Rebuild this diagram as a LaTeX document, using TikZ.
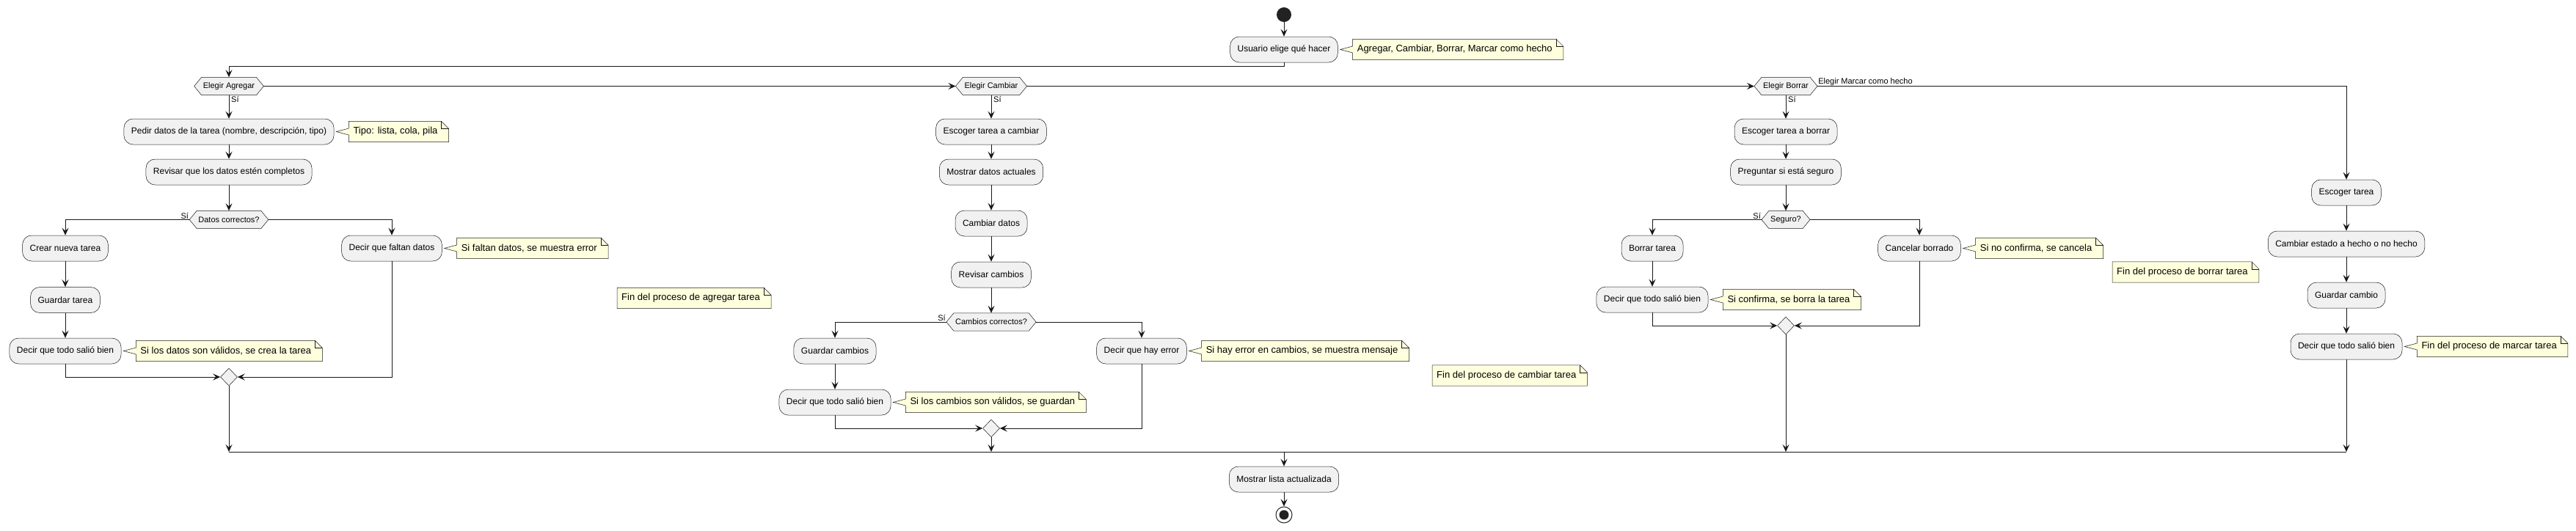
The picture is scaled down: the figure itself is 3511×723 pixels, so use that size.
\documentclass[tikz,border=0pt]{standalone}
\usepackage{fontspec}
\setmainfont{Liberation Sans}
\usetikzlibrary{arrows.meta,shapes.geometric,backgrounds}
\definecolor{lc}{HTML}{181818}
\definecolor{af}{HTML}{F1F1F1}
\definecolor{nf}{HTML}{FEFFDD}
\definecolor{dk}{HTML}{222222}
\newcommand{\hexdraw}[1]{\filldraw[hexs] (#1.west) -- ([xshift=10pt]#1.north west) -- ([xshift=-10pt]#1.north east) -- (#1.east) -- ([xshift=-10pt]#1.south east) -- ([xshift=10pt]#1.south west) -- cycle;}
\newcommand{\notew}[2]{\filldraw[nots] (#1.north west) -- ([xshift=-10pt]#1.north east) -- ([yshift=-10pt]#1.north east) -- (#1.south east) -- (#1.south west) -- ([yshift=-4.5pt]#1.west) -- ([xshift=3pt]#2.east) -- ([yshift=4.5pt]#1.west) -- cycle;
\draw[nots,fill=none] ([xshift=-10pt]#1.north east) |- ([yshift=-10pt]#1.north east);}
\newcommand{\notef}[1]{\filldraw[nots] (#1.north west) -- ([xshift=-10pt]#1.north east) -- ([yshift=-10pt]#1.north east) -- (#1.south east) -- (#1.south west) -- cycle;
\draw[nots,fill=none] ([xshift=-10pt]#1.north east) |- ([yshift=-10pt]#1.north east);}
\begin{document}
\begin{tikzpicture}[x=1pt,y=-1pt,
  act/.style={draw=lc, fill=af, line width=0.5pt, rounded corners=12.5pt, minimum height=35pt, inner xsep=10pt, inner ysep=0pt, font=\fontsize{12}{14}\selectfont},
  hexn/.style={minimum height=24pt, inner xsep=12pt, inner ysep=0pt, font=\fontsize{11}{13}\selectfont},
  hexs/.style={draw=lc, fill=af, line width=0.5pt},
  notn/.style={minimum height=28pt, inner xsep=0pt, inner ysep=0pt, anchor=west, font=\fontsize{13}{15}\selectfont, execute at begin node={\hspace*{6pt}}, execute at end node={\hspace*{15pt}}},
  nots/.style={draw=lc, fill=nf, line width=0.5pt},
  mrg/.style={diamond, draw=lc, fill=af, line width=0.5pt, minimum width=23pt, minimum height=24pt, inner sep=0pt},
  lbl/.style={inner sep=1pt, font=\fontsize{11}{13}\selectfont},
  conn/.style={draw=lc, line width=1pt},
  arr/.style={conn, -{Stealth[length=10pt,width=9pt,inset=4pt]}}]
\useasboundingbox (0,0) rectangle (3511,723);

% top
\node[circle, fill=dk, minimum size=20pt, inner sep=0pt] (st) at (1750,20) {};
\node[act] (u) at (1750,67.5) {Usuario elige qué hacer};
\node[notn] (nu) at ([xshift=20pt]u.east) {Agregar, Cambiar, Borrar, Marcar como hecho};
\node[hexn] (dA) at (312,117.5) {Elegir Agregar};
\node[hexn] (dC) at (1351,117.5) {Elegir Cambiar};
\node[hexn] (dB) at (2434,117.5) {Elegir Borrar};

% Agregar
\node[act] (a1) at (312,179.5) {Pedir datos de la tarea (nombre, descripción, tipo)};
\node[notn] (n1) at ([xshift=20pt]a1.east) {Tipo: lista, cola, pila};
\node[act] (a2) at (312,234.5) {Revisar que los datos estén completos};
\node[hexn] (dD) at (312,299.5) {Datos correctos?};
\node[act] (a3) at (89,338.5) {Crear nueva tarea};
\node[act] (a4) at (534,338.5) {Decir que faltan datos};
\node[notn] (n4) at ([xshift=20pt]a4.east) {Si faltan datos, se muestra error};
\node[act] (a5) at (89,409) {Guardar tarea};
\node[act] (a6) at (89,478.5) {Decir que todo salió bien};
\node[notn] (n6) at ([xshift=20pt]a6.east) {Si los datos son válidos, se crea la tarea};
\node[mrg] (m1) at (312,514) {};
\node[notn] (f1) at (841,406.5) {Fin del proceso de agregar tarea};

% Cambiar
\node[act] (b1) at (1351,179.5) {Escoger tarea a cambiar};
\node[act] (b2) at (1351,234.5) {Mostrar datos actuales};
\node[act] (b3) at (1351,304.5) {Cambiar datos};
\node[act] (b4) at (1351,374.5) {Revisar cambios};
\node[hexn] (dE) at (1351,439) {Cambios correctos?};
\node[act] (b5) at (1138,478.5) {Guardar cambios};
\node[act] (b6) at (1556,478.5) {Decir que hay error};
\node[notn] (nb6) at ([xshift=20pt]b6.east) {Si hay error en cambios, se muestra mensaje};
\node[act] (b7) at (1138,548.5) {Decir que todo salió bien};
\node[notn] (nb7) at ([xshift=20pt]b7.east) {Si los cambios son válidos, se guardan};
\node[mrg] (m2) at (1351,584) {};
\node[notn] (f2) at (1952,512) {Fin del proceso de cambiar tarea};

% Borrar
\node[act] (c1) at (2434,179.5) {Escoger tarea a borrar};
\node[act] (c2) at (2434,234.5) {Preguntar si está seguro};
\node[hexn] (dF) at (2434,299.5) {Seguro?};
\node[act] (c3) at (2252,338.5) {Borrar tarea};
\node[act] (c4) at (2616,338.5) {Cancelar borrado};
\node[notn] (nc4) at ([xshift=20pt]c4.east) {Si no confirma, se cancela};
\node[act] (c5) at (2252,408.5) {Decir que todo salió bien};
\node[notn] (nc5) at ([xshift=20pt]c5.east) {Si confirma, se borra la tarea};
\node[mrg] (m3) at (2434,444) {};
\node[notn] (f3) at (2879,371) {Fin del proceso de borrar tarea};

% Marcar
\node[act] (d1) at (3198,262.5) {Escoger tarea};
\node[act] (d2) at (3198,332.5) {Cambiar estado a hecho o no hecho};
\node[act] (d3) at (3198,402.5) {Guardar cambio};
\node[act] (d4) at (3198,472.5) {Decir que todo salió bien};
\node[notn] (nd4) at ([xshift=20pt]d4.east) {Fin del proceso de marcar tarea};

% bottom
\node[act] (e1) at (1750,653.5) {Mostrar lista actualizada};
\node[circle, draw=dk, line width=1pt, minimum size=22pt, inner sep=0pt] (en) at (1750,702) {};
\fill[dk] (en.center) circle (6.5);

\begin{pgfonlayer}{background}
\fill[white] (0,0) rectangle (3511,723);
\hexdraw{dA}\hexdraw{dC}\hexdraw{dB}\hexdraw{dD}\hexdraw{dE}\hexdraw{dF}
\notew{nu}{u}\notew{n1}{a1}\notew{n4}{a4}\notew{n6}{a6}
\notew{nb6}{b6}\notew{nb7}{b7}\notew{nc4}{c4}\notew{nc5}{c5}\notew{nd4}{d4}
\notef{f1}\notef{f2}\notef{f3}
\end{pgfonlayer}

% labels
\node[lbl, anchor=north west] (sA) at ([xshift=2pt]dA.south) {Sí};
\node[lbl, anchor=north west] (sC) at ([xshift=2pt]dC.south) {Sí};
\node[lbl, anchor=north west] (sB) at ([xshift=2pt]dB.south) {Sí};
\node[lbl, anchor=south east] (sD) at (dD.west) {Sí};
\node[lbl, anchor=south east] (sE) at (dE.west) {Sí};
\node[lbl, anchor=south east] (sF) at (dF.west) {Sí};
\node[lbl, anchor=south west] (lm) at (dB.east) {Elegir Marcar como hecho};

% connectors top
\coordinate (t1) at (1750,90);
\draw[arr] (st) -- (u);
\draw[arr] (u.south) -- (t1) -| (dA.north);
\draw[arr] (dA.east) -- (dC.west);
\draw[arr] (dC.east) -- (dB.west);
\draw[arr] (dB.east) -| (d1.north);

% Agregar
\draw[arr] (dA) -- (a1);
\draw[arr] (a1) -- (a2);
\draw[arr] (a2) -- (dD);
\draw[arr] (dD.west) -| (a3.north);
\draw[arr] (dD.east) -| (a4.north);
\draw[arr] (a3) -- (a5);
\draw[arr] (a5) -- (a6);
\draw[arr] (a6.south) |- (m1.west);
\draw[arr] (a4.south) |- (m1.east);

% Cambiar
\draw[arr] (dC) -- (b1);
\draw[arr] (b1) -- (b2);
\draw[arr] (b2) -- (b3);
\draw[arr] (b3) -- (b4);
\draw[arr] (b4) -- (dE);
\draw[arr] (dE.west) -| (b5.north);
\draw[arr] (dE.east) -| (b6.north);
\draw[arr] (b5) -- (b7);
\draw[arr] (b7.south) |- (m2.west);
\draw[arr] (b6.south) |- (m2.east);

% Borrar
\draw[arr] (dB) -- (c1);
\draw[arr] (c1) -- (c2);
\draw[arr] (c2) -- (dF);
\draw[arr] (dF.west) -| (c3.north);
\draw[arr] (dF.east) -| (c4.north);
\draw[arr] (c3) -- (c5);
\draw[arr] (c5.south) |- (m3.west);
\draw[arr] (c4.south) |- (m3.east);

% Marcar
\draw[arr] (d1) -- (d2);
\draw[arr] (d2) -- (d3);
\draw[arr] (d3) -- (d4);

% join
\coordinate (j1) at (312,616);
\coordinate (j2) at (1351,616);
\coordinate (j3) at (2434,616);
\coordinate (j4) at (3198,616);
\coordinate (jm) at (1750,616);
\draw[arr] (m1.south) -- (j1);
\draw[arr] (m2.south) -- (j2);
\draw[arr] (m3.south) -- (j3);
\draw[arr] (d4.south) -- (j4);
\draw[conn] (j1) -- (j4);
\draw[arr] (jm) -- (e1.north);
\draw[arr] (e1) -- (en);
\end{tikzpicture}
\end{document}
